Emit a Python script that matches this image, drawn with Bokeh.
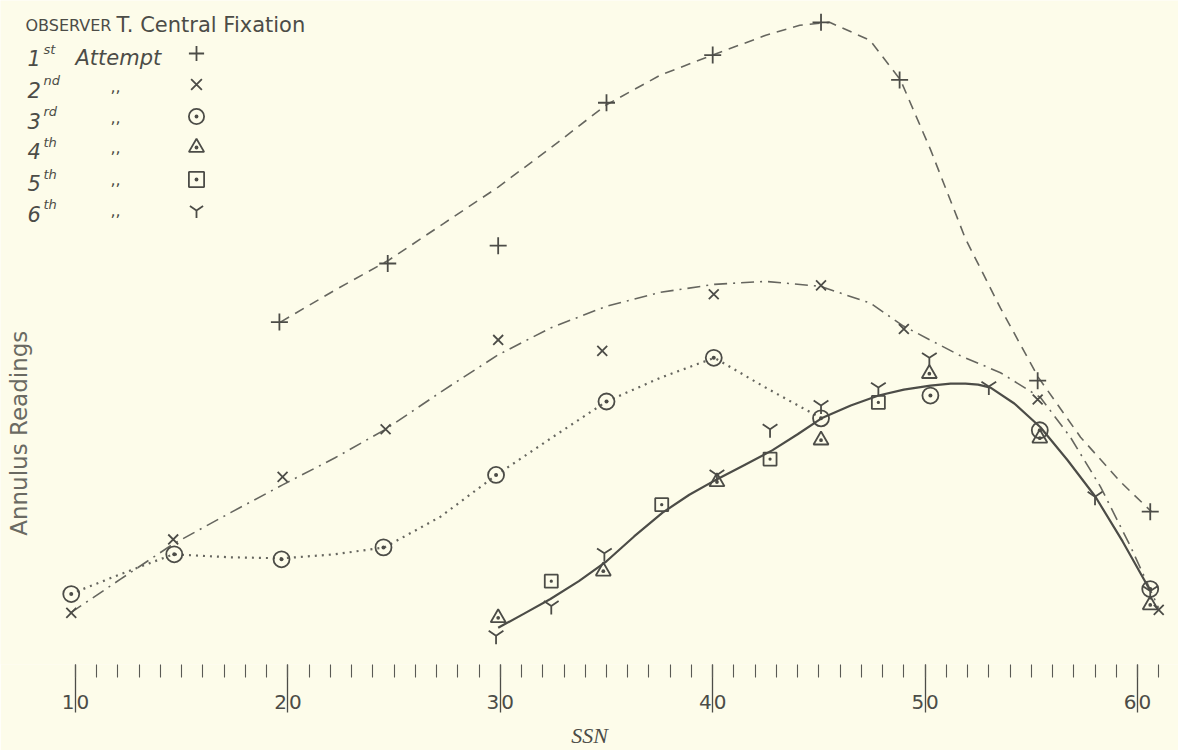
import math
from bokeh.plotting import figure
from bokeh.models import Range1d, LinearAxis, FixedTicker, Label, Legend, LegendItem
from bokeh.embed import file_html
from bokeh.resources import INLINE
from bokeh.core.properties import value

# ---------------- data ----------------
# 1st attempt (+)
ssn_1 = [19.6, 24.7, 29.9, 35.0, 40.0, 45.1, 48.8, 55.3, 60.6]
read_1 = [34.5, 40.4, 42.2, 56.6, 61.4, 64.7, 58.9, 28.6, 15.4]
# 2nd attempt (x)
ssn_2 = [9.8, 14.6, 19.75, 24.6, 29.9, 34.8, 40.05, 45.1, 49.0, 55.3, 61.0]
read_2 = [5.2, 12.6, 18.9, 23.7, 32.7, 31.6, 37.3, 38.2, 33.8, 26.7, 5.5]
# 3rd attempt (circle dot)
ssn_3 = [9.8, 14.65, 19.7, 24.5, 29.8, 35.0, 40.05, 45.1, 50.25, 55.4, 60.6]
read_3 = [7.1, 11.1, 10.6, 11.8, 19.1, 26.5, 30.9, 24.8, 27.1, 23.6, 7.6]
# 4th attempt (triangle)
ssn_4 = [29.9, 34.85, 40.2, 45.1, 50.2, 55.4, 60.6]
read_4 = [4.7, 9.4, 18.4, 22.6, 29.3, 22.8, 6.0]
# 5th attempt (square)
ssn_5 = [32.4, 37.6, 42.7, 47.8]
read_5 = [8.4, 16.1, 20.7, 26.4]
# 6th attempt (Y)
ssn_6 = [29.8, 32.4, 34.9, 40.2, 42.7, 45.1, 47.8, 50.2, 53.0, 58.0, 60.6]
read_6 = [2.9, 5.9, 11.2, 19.1, 23.7, 26.1, 27.9, 30.9, 28.0, 16.9, 7.4]

# hand-drawn curves
curve1_ssn = [19.65, 22.2, 24.72, 27.31, 29.9, 32.4, 35.0, 37.55, 40.0, 42.5, 44.1, 45.5, 47.4, 48.84,
              50.25, 51.9, 53.55, 55.34, 57.32, 59.2, 60.66]
curve1_read = [34.5, 37.7, 40.7, 44.4, 48.1, 52.1, 56.4, 59.4, 61.4, 63.4, 64.4, 64.7, 62.9, 58.9,
               51.9, 42.9, 35.9, 28.9, 22.9, 18.4, 15.4]
curve2_ssn = [9.76, 12.12, 14.57, 17.3, 19.75, 22.2, 24.6, 27.3, 29.9, 32.36, 35.0, 37.55, 40.08, 42.49,
              45.08, 47.43, 48.98, 51.67, 53.55, 55.43, 56.84, 58.26, 59.67, 60.99]
curve2_read = [5.2, 8.6, 12.1, 15.3, 18.1, 20.8, 23.7, 27.6, 31.2, 33.9, 36.1, 37.5, 38.3, 38.6,
               38.1, 36.4, 34.1, 31.1, 29.4, 26.9, 22.9, 17.9, 11.9, 5.7]
curve3_ssn = [9.76, 12.12, 14.6, 17.3, 19.75, 22.2, 24.55, 27.19, 29.82, 32.46, 35.0, 37.55, 40.08, 42.49, 45.12]
curve3_read = [7.1, 9.1, 11.1, 10.8, 10.7, 11.1, 11.8, 14.9, 19.1, 22.9, 26.5, 28.9, 30.9, 27.9, 24.8]
curve_mean_ssn = [29.9, 31.1, 32.36, 33.7, 35.0, 36.3, 37.64, 38.9, 40.23, 41.5, 42.82, 44.0, 45.12, 46.5,
                  47.81, 49.0, 50.25, 51.2, 51.9, 52.5, 53.08, 54.2, 55.43, 56.7, 58.02, 59.3, 60.61]
curve_mean_read = [3.7, 5.1, 6.6, 8.4, 10.4, 12.9, 15.3, 17.1, 18.7, 20.1, 21.6, 23.2, 24.8, 26.1,
                   27.1, 27.7, 28.1, 28.3, 28.3, 28.2, 27.9, 26.3, 23.9, 20.6, 16.9, 12.4, 7.4]

major_ticks = [10, 20, 30, 40, 50, 60]
minor_ticks = [v for v in range(10, 62)]
tick_labels = {10: "1\u200a0", 20: "2\u200a0", 30: "3\u200a0", 40: "4\u200a0", 50: "5\u200a0", 60: "6\u200a0"}

legend_ordinals = ["1", "2", "3", "4", "5", "6"]
legend_suffixes = ["st", "nd", "rd", "th", "th", "th"]

# ---------------- styling / layout ----------------
BG = "#fdfcea"
INK = "#4c4c47"
LINE = "#66665f"
W, H = 1178, 750
PX = 21.24                     # pixels per SSN unit; SSN 10 at x = 75 px
X_START = 10 - 75 / PX
X_END = 10 + (W - 75) / PX
FRAME_BOTTOM = 669
Y_END = FRAME_BOTTOM / 10.0


def lx(px):
    return 10 + (px - 75) / PX


def ly(py):
    return (FRAME_BOTTOM - py) / 10.0


p = figure(width=W, height=H, x_range=Range1d(X_START, X_END), y_range=Range1d(0, Y_END),
           x_axis_type=None, y_axis_type=None, toolbar_location=None, output_backend="svg",
           background_fill_color=BG, border_fill_color=BG, outline_line_color=None,
           min_border_left=0, min_border_right=0, min_border_top=0, min_border_bottom=H - FRAME_BOTTOM)

xaxis = LinearAxis(ticker=FixedTicker(ticks=major_ticks, minor_ticks=minor_ticks),
                   axis_line_color=None,
                   major_tick_in=0, major_tick_out=48, major_tick_line_color=INK, major_tick_line_width=1.3,
                   minor_tick_in=0, minor_tick_out=13, minor_tick_line_color="#5a5a54", minor_tick_line_width=1.1,
                   major_label_overrides=tick_labels, major_label_standoff=-23,
                   major_label_text_font="DejaVu Sans", major_label_text_font_size="20px",
                   major_label_text_color=INK,
                   axis_label="SSN", axis_label_standoff=6,
                   axis_label_text_font="Liberation Serif", axis_label_text_font_style="italic",
                   axis_label_text_font_size="22px", axis_label_text_color=INK)
p.add_layout(xaxis, "below")

# curves
p.line(curve1_ssn, curve1_read, line_color=LINE, line_width=1.6, line_dash="10 7")
p.line(curve2_ssn, curve2_read, line_color=LINE, line_width=1.6, line_dash="13 6 2 6")
p.line(curve3_ssn, curve3_read, line_color=LINE, line_width=2.2, line_dash="2 5")
p.line(curve_mean_ssn, curve_mean_read, line_color=INK, line_width=2.2, line_join="round")

# points
mk = dict(line_color=INK, fill_color=None, line_width=1.8)
r1 = p.scatter(ssn_1, read_1, marker="cross", size=17, **mk)
r2 = p.scatter(ssn_2, read_2, marker="x", size=14, **mk)
r3 = p.scatter(ssn_3, read_3, marker="circle_dot", size=16, **mk)
r4 = p.scatter(ssn_4, read_4, marker="triangle_dot", size=15, **mk)
r5 = p.scatter(ssn_5, read_5, marker="square_dot", size=13, **mk)
r6 = p.scatter(ssn_6, read_6, marker="y", size=17, **mk)

# key markers: two interleaved legends (rows 1,3,5 and 2,4,6)
leg_style = dict(orientation="vertical", glyph_width=38, glyph_height=38, label_height=38, label_width=1,
                 spacing=25, padding=0, margin=0, label_standoff=0, label_text_font_size="1px",
                 border_line_color=None, background_fill_alpha=0)
legend_a = Legend(items=[LegendItem(label=value(" "), renderers=[r]) for r in (r1, r3, r5)],
                  location=(177, FRAME_BOTTOM - 203), **leg_style)
legend_b = Legend(items=[LegendItem(label=value(" "), renderers=[r]) for r in (r2, r4, r6)],
                  location=(177, FRAME_BOTTOM - 234), **leg_style)
p.add_layout(legend_a)
p.add_layout(legend_b)

# y axis title
p.add_layout(Label(x=lx(18), y=ly(436), text="Annulus Readings", angle=math.pi / 2,
                   text_font="DejaVu Sans", text_font_size="23px", text_color="#6a6a62",
                   text_align="center", text_baseline="middle"))

# title / key text
p.add_layout(Label(x=lx(25), y=ly(25), text="OBSERVER", text_font="DejaVu Sans", text_font_size="16px",
                   text_color=INK, text_baseline="middle"))
p.add_layout(Label(x=lx(116), y=ly(25), text="T. Central Fixation", text_font="DejaVu Sans",
                   text_font_size="21px", text_color=INK, text_baseline="middle"))

row_y = [58, 90, 121, 152, 184, 215]
for i in range(6):
    yy = row_y[i]
    p.add_layout(Label(x=lx(27), y=ly(yy), text=legend_ordinals[i], text_font="DejaVu Sans",
                       text_font_style="italic", text_font_size="21px", text_color=INK, text_baseline="middle"))
    p.add_layout(Label(x=lx(43), y=ly(yy - 9), text=legend_suffixes[i], text_font="DejaVu Sans",
                       text_font_style="italic", text_font_size="13px", text_color=INK, text_baseline="middle"))
    if i == 0:
        p.add_layout(Label(x=lx(75), y=ly(yy), text="Attempt", text_font="DejaVu Sans",
                           text_font_style="italic", text_font_size="21px", text_color=INK,
                           text_baseline="middle"))
    else:
        p.add_layout(Label(x=lx(110), y=ly(yy - 4), text=",,", text_font="DejaVu Sans",
                           text_font_size="16px", text_color=INK, text_baseline="middle"))

html = file_html(p, INLINE, title="Observer T. Central Fixation")
open("out.html", "w").write(html)
